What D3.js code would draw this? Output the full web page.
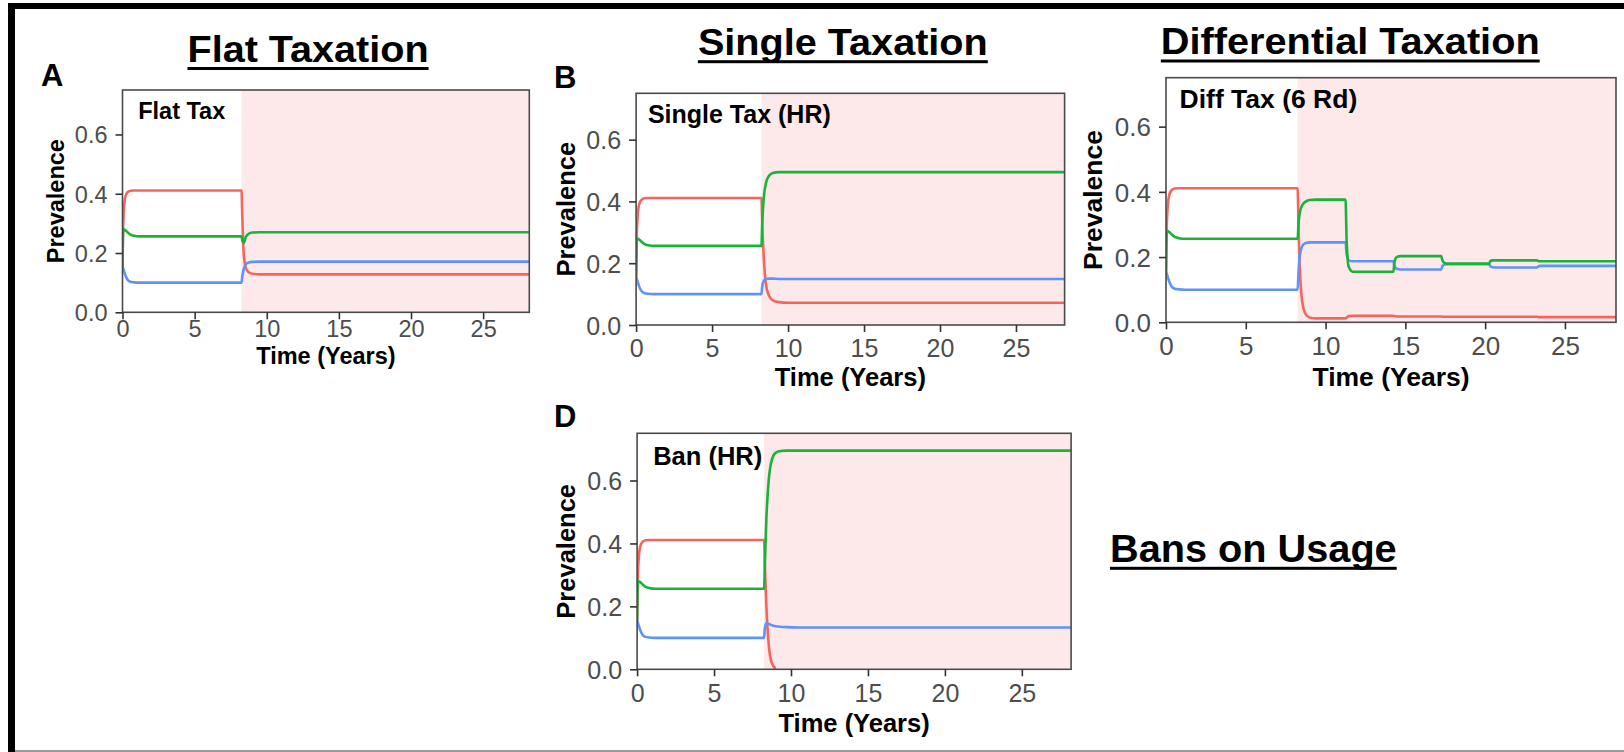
<!DOCTYPE html>
<html>
<head>
<meta charset="utf-8">
<script src="https://cdn.jsdelivr.net/npm/d3@7"></script>
<style>
  html,body{margin:0;padding:0;background:#fff;}
  svg{display:block;font-family:"Liberation Sans",Arial,Helvetica,sans-serif;}
</style>
</head>
<body>
<svg id="fig" width="1624" height="752"></svg>
<script>
// ---------------- DATA ----------------
const yTicks = [0, 0.2, 0.4, 0.6];
const xTicks = [0, 5, 10, 15, 20, 25];
const timeMax = 28.2;
const interventionStart = 8.25;

// common burn-in period (identical in every scenario)
const preTime  = [0, 0.04, 0.1, 0.2, 0.35, 0.55, 0.8, 1.2, 8.25];
const preRed   = [0.15, 0.28, 0.35, 0.39, 0.405, 0.41, 0.411, 0.411, 0.411];
const preGreen = [0.15, 0.27, 0.28, 0.277, 0.27, 0.262, 0.258, 0.256, 0.256];
const preBlue  = [0.15, 0.15, 0.14, 0.125, 0.11, 0.103, 0.101, 0.10, 0.10];

// A: Flat Tax
const flatTime  = [8.3, 8.4, 8.55, 8.75, 9.0, 9.5, 10.5, 28.2];
const flatRed   = [0.33, 0.2, 0.15, 0.135, 0.13, 0.128, 0.128, 0.128];
const flatGreen = [0.243, 0.234, 0.255, 0.265, 0.269, 0.27, 0.27, 0.27];
const flatBlue  = [0.12, 0.145, 0.162, 0.168, 0.17, 0.171, 0.171, 0.171];

// B: Single Tax (HR)
const singleTime  = [8.3, 8.4, 8.55, 8.75, 9.0, 9.4, 10, 28.2];
const singleRed   = [0.33, 0.22, 0.13, 0.095, 0.08, 0.074, 0.072, 0.072];
const singleGreen = [0.33, 0.41, 0.46, 0.483, 0.492, 0.495, 0.495, 0.495];
const singleBlue  = [0.125, 0.143, 0.149, 0.15, 0.15, 0.149, 0.149, 0.149];

// C: Diff Tax (6 Rd)
const diffTime  = [8.3, 8.4, 8.55, 8.75, 9.0, 9.4, 10, 11.25, 11.32, 11.45, 11.7, 14.25, 14.32, 14.45, 14.7, 17.25, 17.32, 17.45, 17.7, 20.25, 20.32, 20.45, 20.7, 23.25, 23.32, 23.45, 23.7, 28.2];
const diffRed   = [0.3, 0.15, 0.06, 0.025, 0.015, 0.012, 0.012, 0.012, 0.015, 0.019, 0.02, 0.02, 0.019, 0.018, 0.018, 0.018, 0.017, 0.017, 0.017, 0.017, 0.017, 0.017, 0.017, 0.017, 0.016, 0.016, 0.016, 0.016];
const diffGreen = [0.3, 0.34, 0.36, 0.37, 0.375, 0.376, 0.376, 0.376, 0.25, 0.17, 0.155, 0.155, 0.185, 0.2, 0.203, 0.203, 0.19, 0.182, 0.18, 0.18, 0.187, 0.19, 0.19, 0.19, 0.188, 0.187, 0.187, 0.187];
const diffBlue  = [0.15, 0.21, 0.235, 0.243, 0.245, 0.245, 0.245, 0.245, 0.21, 0.19, 0.187, 0.187, 0.172, 0.164, 0.162, 0.162, 0.172, 0.177, 0.178, 0.178, 0.172, 0.169, 0.168, 0.168, 0.171, 0.173, 0.173, 0.173];

// D: Ban (HR)
const banTime  = [8.3, 8.4, 8.55, 8.75, 9.0, 9.3, 9.7, 10.5, 28.2];
const banRed   = [0.33, 0.2, 0.08, 0.02, 0.002, null, null, null, null];
const banGreen = [0.33, 0.48, 0.6, 0.665, 0.688, 0.694, 0.695, 0.695, 0.695];
const banBlue  = [0.13, 0.147, 0.144, 0.14, 0.137, 0.135, 0.134, 0.133, 0.133];

const panelNames = ["Flat Tax", "Single Tax (HR)", "Diff Tax (6 Rd)", "Ban (HR)"];
const sectionTitles = ["Flat Taxation", "Single Taxation", "Differential Taxation", "Bans on Usage"];
const panelLetters = ["A", "B", "D"];
const seriesColors = ["#F5655E", "#19B33A", "#5E93FA"];

// ---------------- LAYOUT ----------------
const layouts = [
  {x0:122.5, x1:529.3, y0:90,    y1:312.3, tick:23.5, axt:23.5, inner:23.5, innerX:138.2, innerY:119.3, tickY:25, timeY:51.5, prevX:55.4},
  {x0:636.1, x1:1064.6, y0:93.3, y1:325,   tick:25, axt:25.5, inner:25, innerX:647.9, innerY:122.7, tickY:31.7, timeY:61, prevX:565.7},
  {x0:1166,  x1:1616,  y0:77.7,  y1:322.3, tick:26, axt:26.5, inner:26.5, innerX:1179.6, innerY:108.3, tickY:32.7, timeY:63.7, prevX:1092},
  {x0:637.1, x1:1071.1, y0:433.3, y1:669.3, tick:25, axt:25.5, inner:25.5, innerX:653.2, innerY:465, tickY:32.4, timeY:62.4, prevX:565.7}
];

const svg = d3.select("#fig");

// outer frame
svg.append("rect").attr("x",8).attr("y",3).attr("width",7).attr("height",749).attr("fill","#000");
svg.append("rect").attr("x",8).attr("y",3).attr("width",1616).attr("height",6).attr("fill","#000");
svg.append("rect").attr("x",15).attr("y",750).attr("width",1609).attr("height",2).attr("fill","#9a9a9a");

const panelData = [
  {t: flatTime, r: flatRed, g: flatGreen, b: flatBlue},
  {t: singleTime, r: singleRed, g: singleGreen, b: singleBlue},
  {t: diffTime, r: diffRed, g: diffGreen, b: diffBlue},
  {t: banTime, r: banRed, g: banGreen, b: banBlue}
];

panelData.forEach((pd, i) => {
  const L = layouts[i];
  const x = d3.scaleLinear().domain([0, timeMax]).range([L.x0, L.x1]);
  const y = d3.scaleLinear().domain([0, 0.75]).range([L.y1, L.y0]);
  const g = svg.append("g");
  const clipId = "clip" + i;
  g.append("clipPath").attr("id", clipId).append("rect")
    .attr("x", L.x0).attr("y", L.y0).attr("width", L.x1 - L.x0).attr("height", L.y1 - L.y0);

  // intervention shading
  g.append("rect").attr("x", x(interventionStart)).attr("y", L.y0)
    .attr("width", x(timeMax) - x(interventionStart)).attr("height", L.y1 - L.y0)
    .attr("fill", "#fde9e9");

  const times = preTime.concat(pd.t);
  const series = [preRed.concat(pd.r), preGreen.concat(pd.g), preBlue.concat(pd.b)];
  const line = d3.line()
    .defined(d => d[1] !== null)
    .x(d => x(d[0])).y(d => y(d[1]))
    .curve(d3.curveMonotoneX);
  const order = [0, 2, 1];
  order.forEach(k => {
    const pts = times.map((t, j) => [t, series[k][j]]);
    g.append("path").attr("d", line(pts)).attr("fill", "none")
      .attr("stroke", seriesColors[k]).attr("stroke-width", 2.6)
      .attr("stroke-linejoin", "round")
      .attr("clip-path", `url(#${clipId})`);
  });

  // border
  g.append("rect").attr("x", L.x0).attr("y", L.y0).attr("width", L.x1 - L.x0).attr("height", L.y1 - L.y0)
    .attr("fill", "none").attr("stroke", "#4a4a4a").attr("stroke-width", 1.6);

  // axes
  const ax = g.append("g").attr("transform", `translate(0,${L.y1})`)
    .call(d3.axisBottom(x).tickValues(xTicks).tickSize(7).tickPadding(4).tickFormat(d3.format("d")));
  const ay = g.append("g").attr("transform", `translate(${L.x0},0)`)
    .call(d3.axisLeft(y).tickValues(yTicks).tickSize(7).tickPadding(8).tickFormat(d3.format(".1f")));
  [ax, ay].forEach(a => {
    a.select(".domain").remove();
    a.selectAll(".tick line").attr("stroke", "#333").attr("stroke-width", 1.6);
    a.selectAll(".tick text").attr("fill", "#4d4d4d").attr("font-size", L.tick)
      .attr("font-family", '"Liberation Sans",Arial,sans-serif');
  });
  ax.selectAll(".tick text").attr("y", L.tickY).attr("dy", 0);
  ay.selectAll(".tick text").attr("dy", "0.36em");

  // axis titles
  g.append("text").attr("x", (L.x0 + L.x1) / 2).attr("y", L.y1 + L.timeY)
    .attr("text-anchor", "middle").attr("font-weight", "bold").attr("font-size", L.axt)
    .text("Time (Years)");
  const cy = (L.y0 + L.y1) / 2;
  g.append("text").attr("transform", `translate(${L.prevX + 0.36 * L.axt},${cy}) rotate(-90)`)
    .attr("text-anchor", "middle").attr("font-weight", "bold").attr("font-size", L.axt)
    .text("Prevalence");

  // inner label
  g.append("text").attr("x", L.innerX).attr("y", L.innerY)
    .attr("font-weight", "bold").attr("font-size", L.inner).text(panelNames[i]);
});

// panel letters
const letterPos = [[41, 86, 31], [554, 88, 31], [554, 427, 31]];
panelLetters.forEach((l, i) => {
  svg.append("text").attr("x", letterPos[i][0]).attr("y", letterPos[i][1])
    .attr("font-weight", "bold").attr("font-size", letterPos[i][2]).text(l);
});

// section titles (underlined)
const titlePos = [
  {x0:187.5, x1:428.6, base:62, ul:68.5, fs:37},
  {x0:697.9, x1:987.8, base:55,   ul:61.7, fs:37},
  {x0:1160.8, x1:1539.7, base:54.3, ul:61, fs:37},
  {x0:1110, x1:1396.7, base:561.7, ul:568.3, fs:39.5}
];
sectionTitles.forEach((t, i) => {
  const p = titlePos[i];
  svg.append("text").attr("x", p.x0).attr("y", p.base)
    .attr("font-weight", "bold").attr("font-size", p.fs)
    .attr("textLength", p.x1 - p.x0).attr("lengthAdjust", "spacingAndGlyphs")
    .text(t);
  svg.append("rect").attr("x", p.x0).attr("y", p.ul - 1.5).attr("width", p.x1 - p.x0).attr("height", 3).attr("fill", "#000");
});
</script>
</body>
</html>
